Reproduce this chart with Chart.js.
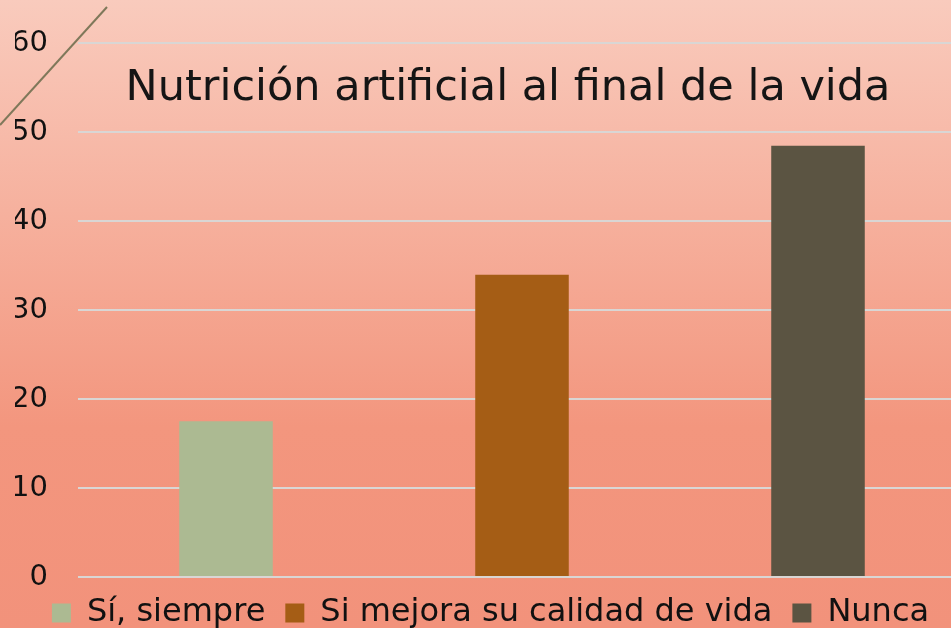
<!DOCTYPE html>
<html>
<head>
<meta charset="utf-8">
<script src="https://cdn.jsdelivr.net/npm/chart.js@4"></script>
<style>
html,body{margin:0;padding:0;overflow:hidden;width:951px;height:628px;
  background:linear-gradient(#f9cbbd 0%,#f3967e 68%,#f2927b 100%)}
#wrap{position:absolute;left:0;top:-4px;width:966px;height:643px}
</style>
</head>
<body>
<div id="wrap"><canvas id="myChart"></canvas></div>
<script>
var categories=['Sí, siempre','Si mejora su calidad de vida','Nunca']
var values=[17.5,34,48.5]
var colors=['#acba92','#a55d15','#5b5442']
var yMax=60
var yStep=10
var chartTitle='Nutrición artificial al final de la vida'

var FONT='"DejaVu Sans", sans-serif'

// one dataset per category so the legend shows each one
var datasets=[]
for(var i=0;i<categories.length;i++){
    datasets.push({
        label:categories[i],
        backgroundColor:colors[i],
        data:values.map(function(v,j){return j===i?v:null}),
        skipNull:true,
        categoryPercentage:1,
        barPercentage:0.316
    })
}

// title inside the plot and the little decorative stroke top-left
// (canvas sits 4px above the page, hence the +4)
const extras={
    id:'extras',
    afterDraw(chart){
        const c=chart.ctx
        c.save()
        c.strokeStyle='#7f785a'
        c.lineWidth=2
        c.beginPath()
        c.moveTo(0,129)
        c.lineTo(107,11)
        c.stroke()
        c.fillStyle='#151515'
        c.font='43px '+FONT
        c.textAlign='center'
        c.textBaseline='alphabetic'
        c.fillText(chartTitle,508,104)
        c.restore()
    }
}

var ctx=document.getElementById('myChart').getContext('2d')
const chart=new Chart(ctx,{
    type:'bar',
    data:{labels:categories,datasets:datasets},
    options:{
        responsive:true,
        maintainAspectRatio:false,
        animation:false,
        layout:{padding:{left:15,right:0,top:22,bottom:0}},
        scales:{
            x:{display:false},
            y:{
                min:0,max:yMax,
                ticks:{stepSize:yStep,padding:30,color:'#111',font:{family:FONT,size:29}},
                grid:{color:'#d9d6d4',lineWidth:2,drawTicks:false},
                border:{display:false},
                afterFit(scale){scale.width=63}
            }
        },
        plugins:{
            legend:{
                position:'bottom',
                labels:{boxWidth:19,boxHeight:19,padding:20,color:'#111',
                        font:{family:FONT,size:32,lineHeight:0.6}}
            },
            tooltip:{enabled:false}
        }
    },
    plugins:[extras]
})
</script>
</body>
</html>
